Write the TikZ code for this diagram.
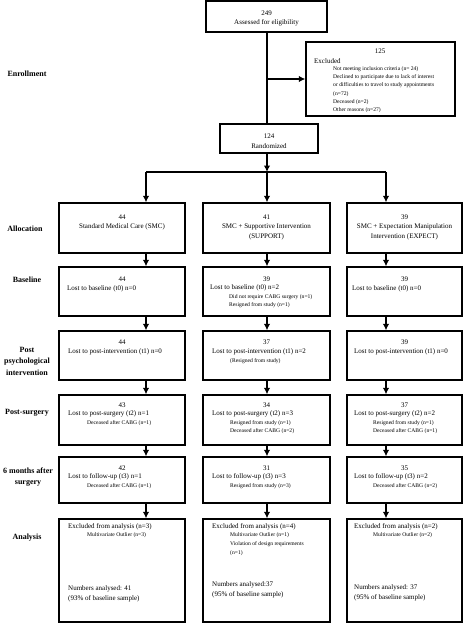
\documentclass[tikz,border=0pt]{standalone}
\usepackage{fontspec}
\setmainfont{Liberation Serif}
\usetikzlibrary{arrows.meta,fit}
\tikzset{
  box/.style={draw, line width=1.35pt, inner sep=0pt},
  mt/.style={font=\fontsize{7}{8}\selectfont, inner sep=0pt},
  st/.style={font=\fontsize{5.6}{6.5}\selectfont, inner sep=0pt},
  lab/.style={font=\bfseries\fontsize{8}{11.5}\selectfont, align=center, inner sep=0pt},
  arr/.style={-{Latex[length=6.5pt,width=6.5pt]}, line width=1.35pt},
  ln/.style={line width=1.35pt},
}
\newcommand\bx[5]{\node[box, fit={(#2,#3)(#4,#5)}] (#1) {};}
\begin{document}
\begin{tikzpicture}[x=1pt,y=-1pt]
\useasboundingbox (0,0) rectangle (473,624);
\fill[white] (0,0) rectangle (473,624);
% column coordinates
\coordinate (trunk) at (267,0);
\coordinate (cL) at (146,0);
\coordinate (cM) at (267,0);
\coordinate (cR) at (386,0);
\coordinate (split) at (267,172);
\coordinate (sL) at (146,172);
\coordinate (sR) at (386,172);

% left labels
\node[lab] (lEnr) at (27,74) {Enrollment};
\node[lab] (lAll) at (25,229) {Allocation};
\node[lab] (lBas) at (27,280) {Baseline};
\node[lab] (lPP) at (27,361) {Post\\psychological\\intervention};
\node[lab] (lPS) at (27,413) {Post-surgery};
\node[lab] (l6m) at (28,477) {6 months after\\surgery};
\node[lab] (lAn) at (27,538) {Analysis};

% enrollment
\bx{E}{206}{1}{327}{32}
\node[mt] (tE1) at (266.5,13) {249};
\node[mt] (tE2) at (266.5,23) {Assessed for eligibility};

\bx{X}{306}{42}{455}{116}
\node[mt] (tX1) at (380,51) {125};
\node[mt,anchor=west] (tX2) at (314,61) {Excluded};
\node[st,anchor=west] (tX3) at (333,69) {Not meeting inclusion criteria (n= 24)};
\node[st,anchor=west] (tX4) at (333,77.3) {Declined to participate due to lack of interest};
\node[st,anchor=west] (tX5) at (333,85.6) {or difficulties to travel to study appointments};
\node[st,anchor=west] (tX6) at (333,94) {(n=72)};
\node[st,anchor=west] (tX7) at (333,102) {Deceased (n=2)};
\node[st,anchor=west] (tX8) at (333,110) {Other reasons (n=27)};

\bx{R}{220}{124}{318}{153}
\node[mt] (tR1) at (269,136) {124};
\node[mt] (tR2) at (269,146) {Randomized};

\draw[ln] (E.south -| trunk) -- (R.north -| trunk);
\draw[arr] (trunk |- X.west) -- (X.west);
\draw[arr] (R.south -| trunk) -- (split);
\draw[ln] (sL) -- (sR);

% allocation
\bx{A1}{59}{203}{185}{253}
\bx{A2}{203}{203}{330}{253}
\bx{A3}{347}{203}{462}{253}
\node[mt] (tA11) at (122,217) {44};
\node[mt] (tA12) at (122,227) {Standard Medical Care (SMC)};
\node[mt] (tA21) at (266.5,217) {41};
\node[mt] (tA22) at (266.5,227) {SMC + Supportive Intervention};
\node[mt] (tA23) at (266.5,237) {(SUPPORT)};
\node[mt] (tA31) at (404.5,217) {39};
\node[mt] (tA32) at (404.5,227) {SMC + Expectation Manipulation};
\node[mt] (tA33) at (404.5,237) {Intervention (EXPECT)};

\draw[arr] (sL) -- (A1.north -| cL);
\draw[arr] (split) -- (A2.north -| cM);
\draw[arr] (sR) -- (A3.north -| cR);

% baseline
\bx{B1}{59}{267}{185}{316}
\bx{B2}{203}{267}{330}{316}
\bx{B3}{347}{267}{462}{316}
\node[mt] (tB11) at (122,279) {44};
\node[mt,anchor=west] (tB12) at (67,289) {Lost to baseline (t0) n=0};
\node[mt] (tB21) at (266.5,279) {39};
\node[mt,anchor=west] (tB22) at (210,288) {Lost to baseline (t0) n=2};
\node[st,anchor=west] (tB23) at (229,297) {Did not require CABG surgery (n=1)};
\node[st,anchor=west] (tB24) at (229,305.5) {Resigned from study (n=1)};
\node[mt] (tB31) at (404.5,279) {39};
\node[mt,anchor=west] (tB32) at (352,289) {Lost to baseline (t0) n=0};

\draw[arr] (A1.south -| cL) -- (B1.north -| cL);
\draw[arr] (A2.south -| cM) -- (B2.north -| cM);
\draw[arr] (A3.south -| cR) -- (B3.north -| cR);

% post psychological intervention
\bx{P1}{59}{331}{185}{380}
\bx{P2}{203}{331}{330}{380}
\bx{P3}{347}{331}{462}{380}
\node[mt] (tP11) at (122,342) {44};
\node[mt,anchor=west] (tP12) at (68,352) {Lost to post-intervention (t1) n=0};
\node[mt] (tP21) at (266.5,342) {37};
\node[mt,anchor=west] (tP22) at (212,352) {Lost to post-intervention (t1) n=2};
\node[st,anchor=west] (tP23) at (230,361) {(Resigned from study)};
\node[mt] (tP31) at (404.5,342) {39};
\node[mt,anchor=west] (tP32) at (354,352) {Lost to post-intervention (t1) n=0};

\draw[arr] (B1.south -| cL) -- (P1.north -| cL);
\draw[arr] (B2.south -| cM) -- (P2.north -| cM);
\draw[arr] (B3.south -| cR) -- (P3.north -| cR);

% post-surgery
\bx{S1}{59}{395}{185}{445}
\bx{S2}{203}{395}{330}{445}
\bx{S3}{347}{395}{462}{445}
\node[mt] (tS11) at (122,405) {43};
\node[mt,anchor=west] (tS12) at (68,414) {Lost to post-surgery (t2) n=1};
\node[st,anchor=west] (tS13) at (87,423) {Deceased after CABG (n=1)};
\node[mt] (tS21) at (266.5,405) {34};
\node[mt,anchor=west] (tS22) at (212,414) {Lost to post-surgery (t2) n=3};
\node[st,anchor=west] (tS23) at (230,423) {Resigned from study (n=1)};
\node[st,anchor=west] (tS24) at (230,431.5) {Deceased after CABG (n=2)};
\node[mt] (tS31) at (404.5,405) {37};
\node[mt,anchor=west] (tS32) at (354,414) {Lost to post-surgery (t2) n=2};
\node[st,anchor=west] (tS33) at (373,423) {Resigned from study (n=1)};
\node[st,anchor=west] (tS34) at (373,431.5) {Deceased after CABG (n=1)};

\draw[arr] (P1.south -| cL) -- (S1.north -| cL);
\draw[arr] (P2.south -| cM) -- (S2.north -| cM);
\draw[arr] (P3.south -| cR) -- (S3.north -| cR);

% 6 months
\bx{M1}{59}{457}{185}{503}
\bx{M2}{203}{457}{330}{503}
\bx{M3}{347}{457}{462}{503}
\node[mt] (tM11) at (122,468) {42};
\node[mt,anchor=west] (tM12) at (68,477) {Lost to follow-up (t3) n=1};
\node[st,anchor=west] (tM13) at (87,486) {Deceased after CABG (n=1)};
\node[mt] (tM21) at (266.5,468) {31};
\node[mt,anchor=west] (tM22) at (212,477) {Lost to follow-up (t3) n=3};
\node[st,anchor=west] (tM23) at (230,486) {Resigned from study (n=3)};
\node[mt] (tM31) at (404.5,468) {35};
\node[mt,anchor=west] (tM32) at (354,477) {Lost to follow-up (t3) n=2};
\node[st,anchor=west] (tM33) at (373,486) {Deceased after CABG (n=2)};

\draw[arr] (S1.south -| cL) -- (M1.north -| cL);
\draw[arr] (S2.south -| cM) -- (M2.north -| cM);
\draw[arr] (S3.south -| cR) -- (M3.north -| cR);

% analysis
\bx{N1}{59}{519}{185}{622}
\bx{N2}{203}{519}{330}{622}
\bx{N3}{347}{519}{462}{622}
\node[mt,anchor=west] (tN11) at (68,527) {Excluded from analysis (n=3)};
\node[st,anchor=west] (tN12) at (87,535) {Multivariate Outlier (n=3)};
\node[mt,anchor=west] (tN13) at (68,589) {Numbers analysed: 41};
\node[mt,anchor=west] (tN14) at (68,599) {(93\% of baseline sample)};
\node[mt,anchor=west] (tN21) at (212,527) {Excluded from analysis (n=4)};
\node[st,anchor=west] (tN22) at (230,535) {Multivariate Outlier (n=1)};
\node[st,anchor=west] (tN23) at (230,544) {Violation of design requirements};
\node[st,anchor=west] (tN24) at (230,553) {(n=1)};
\node[mt,anchor=west] (tN25) at (212,585) {Numbers analysed:37};
\node[mt,anchor=west] (tN26) at (212,595) {(95\% of baseline sample)};
\node[mt,anchor=west] (tN31) at (354,527) {Excluded from analysis (n=2)};
\node[st,anchor=west] (tN32) at (373,535) {Multivariate Outlier (n=2)};
\node[mt,anchor=west] (tN33) at (354,588) {Numbers analysed: 37};
\node[mt,anchor=west] (tN34) at (354,598) {(95\% of baseline sample)};

\draw[arr] (M1.south -| cL) -- (N1.north -| cL);
\draw[arr] (M2.south -| cM) -- (N2.north -| cM);
\draw[arr] (M3.south -| cR) -- (N3.north -| cR);
\end{tikzpicture}
\end{document}
